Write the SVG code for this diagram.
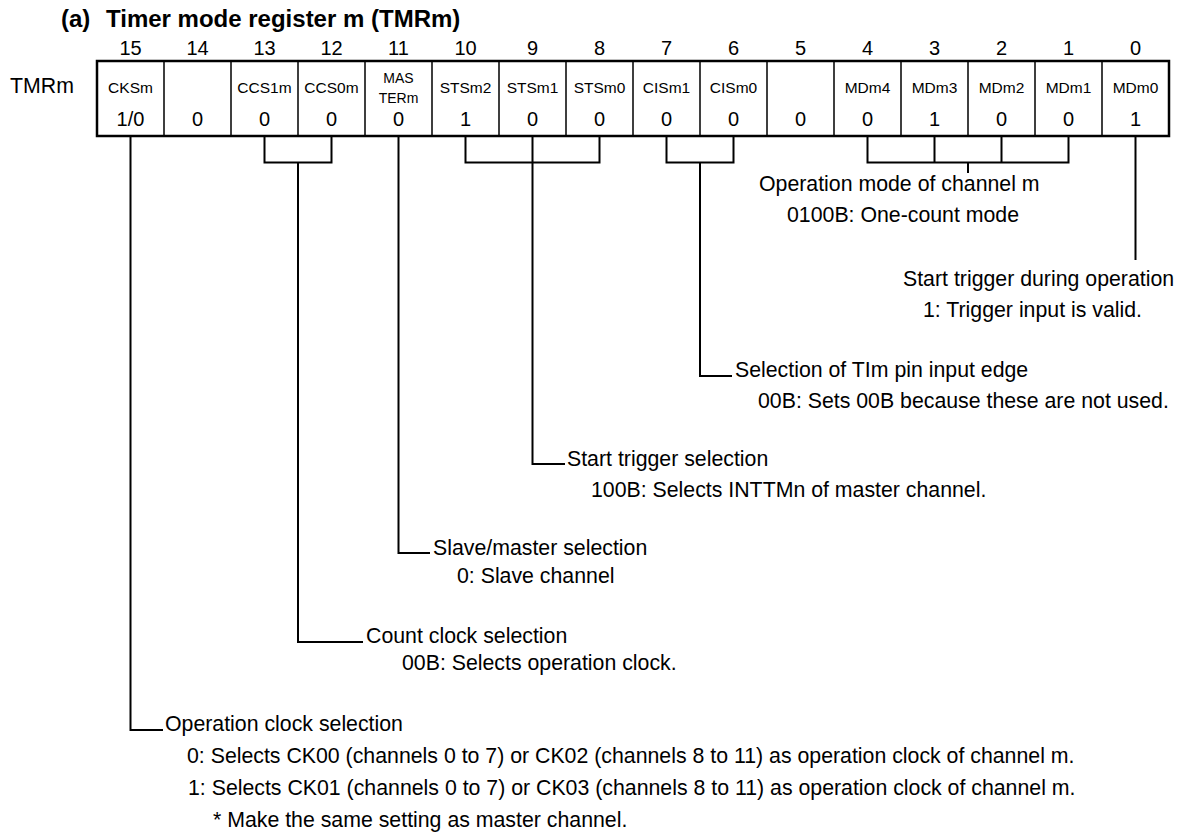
<svg xmlns="http://www.w3.org/2000/svg" width="1178" height="834" viewBox="0 0 1178 834">
<style>
text{font-family:"Liberation Sans",Arial,Helvetica,sans-serif;fill:#000}
.title{font-size:24px;font-weight:bold}
.bit{font-size:20px;text-anchor:middle}
.name{font-size:15.5px;text-anchor:middle}
.name2{font-size:14px;text-anchor:middle}
.val{font-size:20px;text-anchor:middle}
.lbl{font-size:21.3px}
.outer{fill:#fff;stroke:#000;stroke-width:2.5}
.div{stroke:#000;stroke-width:1.5}
.con{fill:none;stroke:#000;stroke-width:2}
</style>
<rect width="1178" height="834" fill="#fff"/>
<g id="title">
<text class="title" x="61" y="27">(a)</text>
<text class="title" x="106" y="27">Timer mode register m (TMRm)</text>
</g>
<g id="bit-numbers">
<text class="bit" x="130.5" y="55">15</text>
<text class="bit" x="197.5" y="55">14</text>
<text class="bit" x="264.5" y="55">13</text>
<text class="bit" x="331.5" y="55">12</text>
<text class="bit" x="398.5" y="55">11</text>
<text class="bit" x="465.5" y="55">10</text>
<text class="bit" x="532.5" y="55">9</text>
<text class="bit" x="599.5" y="55">8</text>
<text class="bit" x="666.5" y="55">7</text>
<text class="bit" x="733.5" y="55">6</text>
<text class="bit" x="800.5" y="55">5</text>
<text class="bit" x="867.5" y="55">4</text>
<text class="bit" x="934.5" y="55">3</text>
<text class="bit" x="1001.5" y="55">2</text>
<text class="bit" x="1068.5" y="55">1</text>
<text class="bit" x="1135.5" y="55">0</text>
</g>
<g id="register-TMRm">
<text class="lbl" x="10" y="93">TMRm</text>
<rect class="outer" x="97" y="61" width="1072" height="75"/>
<path class="div" d="M164 61V136M231 61V136M298 61V136M365 61V136M432 61V136M499 61V136M566 61V136M633 61V136M700 61V136M767 61V136M834 61V136M901 61V136M968 61V136M1035 61V136M1102 61V136"/>
<text class="name" x="130.5" y="93">CKSm</text>
<text class="name" x="264.5" y="93">CCS1m</text>
<text class="name" x="331.5" y="93">CCS0m</text>
<text class="name2" x="398.5" y="83">MAS</text>
<text class="name2" x="398.5" y="103">TERm</text>
<text class="name" x="465.5" y="93">STSm2</text>
<text class="name" x="532.5" y="93">STSm1</text>
<text class="name" x="599.5" y="93">STSm0</text>
<text class="name" x="666.5" y="93">CISm1</text>
<text class="name" x="733.5" y="93">CISm0</text>
<text class="name" x="867.5" y="93">MDm4</text>
<text class="name" x="934.5" y="93">MDm3</text>
<text class="name" x="1001.5" y="93">MDm2</text>
<text class="name" x="1068.5" y="93">MDm1</text>
<text class="name" x="1135.5" y="93">MDm0</text>
<text class="val" x="130.5" y="126">1/0</text>
<text class="val" x="197.5" y="126">0</text>
<text class="val" x="264.5" y="126">0</text>
<text class="val" x="331.5" y="126">0</text>
<text class="val" x="398.5" y="126">0</text>
<text class="val" x="465.5" y="126">1</text>
<text class="val" x="532.5" y="126">0</text>
<text class="val" x="599.5" y="126">0</text>
<text class="val" x="666.5" y="126">0</text>
<text class="val" x="733.5" y="126">0</text>
<text class="val" x="800.5" y="126">0</text>
<text class="val" x="867.5" y="126">0</text>
<text class="val" x="934.5" y="126">1</text>
<text class="val" x="1001.5" y="126">0</text>
<text class="val" x="1068.5" y="126">0</text>
<text class="val" x="1135.5" y="126">1</text>
</g>
<g id="connectors">
<path class="con" d="M130.5 137V730H163"/>
<path class="con" d="M264.5 137V162.5H331.5V137M298 162.5V642H363"/>
<path class="con" d="M398.5 137V553H430"/>
<path class="con" d="M465.5 137V162.5H599.5V137M532.5 137V464H565"/>
<path class="con" d="M666.5 137V162.5H733.5V137M700 162.5V376H732"/>
<path class="con" d="M867.5 137V162.5H1068.5V137M934.5 137V162.5M1001.5 137V162.5M968 162.5V173"/>
<path class="con" d="M1135.5 137V260"/>
</g>
<g id="note-operation-mode">
<text class="lbl" x="759" y="191">Operation mode of channel m</text>
<text class="lbl" x="787" y="222">0100B: One-count mode</text>
</g>
<g id="note-start-trigger-during-operation">
<text class="lbl" x="903" y="286">Start trigger during operation</text>
<text class="lbl" x="923" y="317">1: Trigger input is valid.</text>
</g>
<g id="note-input-edge">
<text class="lbl" x="735" y="377">Selection of TIm pin input edge</text>
<text class="lbl" x="758" y="408">00B: Sets 00B because these are not used.</text>
</g>
<g id="note-start-trigger">
<text class="lbl" x="567" y="466">Start trigger selection</text>
<text class="lbl" x="591" y="497">100B: Selects INTTMn of master channel.</text>
</g>
<g id="note-slave-master">
<text class="lbl" x="433" y="555">Slave/master selection</text>
<text class="lbl" x="457" y="583">0: Slave channel</text>
</g>
<g id="note-count-clock">
<text class="lbl" x="366" y="643">Count clock selection</text>
<text class="lbl" x="402" y="670">00B: Selects operation clock.</text>
</g>
<g id="note-operation-clock">
<text class="lbl" x="165" y="731">Operation clock selection</text>
<text class="lbl" x="187" y="763">0: Selects CK00 (channels 0 to 7) or CK02 (channels 8 to 11) as operation clock of channel m.</text>
<text class="lbl" x="188" y="795">1: Selects CK01 (channels 0 to 7) or CK03 (channels 8 to 11) as operation clock of channel m.</text>
<text class="lbl" x="213" y="827">* Make the same setting as master channel.</text>
</g>
</svg>
